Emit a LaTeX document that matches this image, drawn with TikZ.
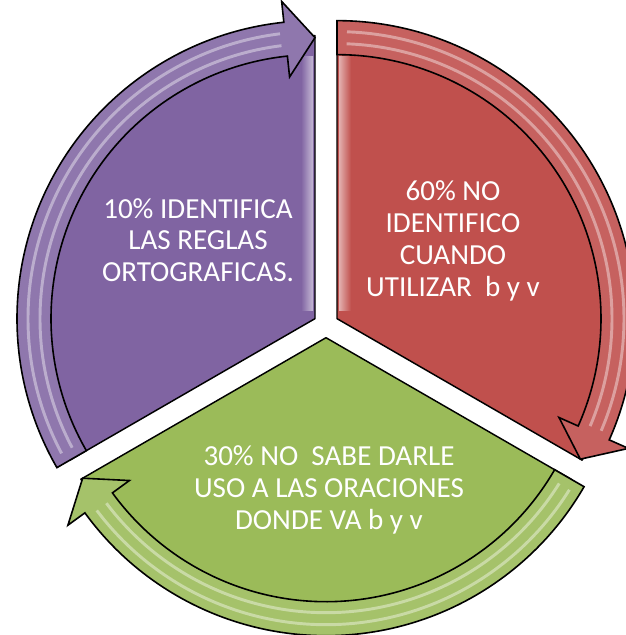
\documentclass[tikz,border=0pt]{standalone}
\usepackage{fontspec}
\setmainfont{Carlito}
\begin{document}
\begin{tikzpicture}[x=0.75pt,y=0.75pt,
  sector/.style={draw=black,line width=1.1pt,line join=round},
  band/.style={draw=black,line width=1.2pt,line join=miter},
  gloss/.style={draw=white,line width=2.2pt,opacity=0.4},
  label/.style={text=white,align=center,font=\fontsize{21.8}{23.8}\selectfont}]
\definecolor{cpur}{HTML}{8064A2}
\definecolor{cred}{HTML}{C0504D}
\definecolor{cgrn}{HTML}{9BBB59}
\useasboundingbox (-326,-310) rectangle (299,325);
\newcommand\bandshape[2]{%
  (#1:298) arc[start angle=#1, end angle={#2+6}, radius=298]
  -- ({#2+6}:319) -- (#2:281) -- ({#2+6}:243) -- ({#2+6}:264)
  arc[start angle={#2+6}, end angle=#1, radius=264] -- cycle}
% purple segment
\begin{scope}[shift={(-11,6.35)}]
  \fill[cpur] (0,0) -- (90:283) arc[start angle=90, end angle=210, radius=283] -- cycle;
  \shade[left color=cpur, right color=cpur!45!white] (-14,8) rectangle (-2,262);
  \draw[sector] (0,0) -- (90:283) arc[start angle=90, end angle=210, radius=283] -- cycle;
  \draw[band, fill=cpur!88!white] \bandshape{210}{90};
  \draw[gloss] (208:275) arc[start angle=208, end angle=97, radius=275];
  \draw[gloss] (208:287) arc[start angle=208, end angle=97, radius=287];
\end{scope}
% red segment
\begin{scope}[shift={(11,6.35)}]
  \fill[cred] (0,0) -- (-30:283) arc[start angle=-30, end angle=90, radius=283] -- cycle;
  \shade[left color=cred!45!white, right color=cred] (2,8) rectangle (14,262);
  \draw[sector] (0,0) -- (-30:283) arc[start angle=-30, end angle=90, radius=283] -- cycle;
  \draw[band, fill=cred!90!white] \bandshape{90}{-30};
  \draw[gloss] (88:275) arc[start angle=88, end angle=-23, radius=275];
  \draw[gloss] (88:287) arc[start angle=88, end angle=-23, radius=287];
\end{scope}
% green segment
\begin{scope}[shift={(0,-12.7)}]
  \fill[cgrn] (0,0) -- (-150:283) arc[start angle=-150, end angle=-30, radius=283] -- cycle;
  \draw[sector] (0,0) -- (-150:283) arc[start angle=-150, end angle=-30, radius=283] -- cycle;
  \draw[band, fill=cgrn!90!white] \bandshape{-30}{-150};
  \draw[gloss] (-32:275) arc[start angle=-32, end angle=-143, radius=275];
  \draw[gloss] (-32:287) arc[start angle=-32, end angle=-143, radius=287];
\end{scope}
\node[label] (t1) at (-128,85) {10\% IDENTIFICA\\LAS REGLAS\\ORTOGRAFICAS.};
\node[label] (t2) at (127,84) {60\% NO\\IDENTIFICO\\CUANDO\\UTILIZAR\ \ b y v};
\node[label] (t3) at (3,-165) {30\% NO\ \ SABE DARLE\\USO A LAS ORACIONES\\DONDE VA b y v};
\end{tikzpicture}
\end{document}
